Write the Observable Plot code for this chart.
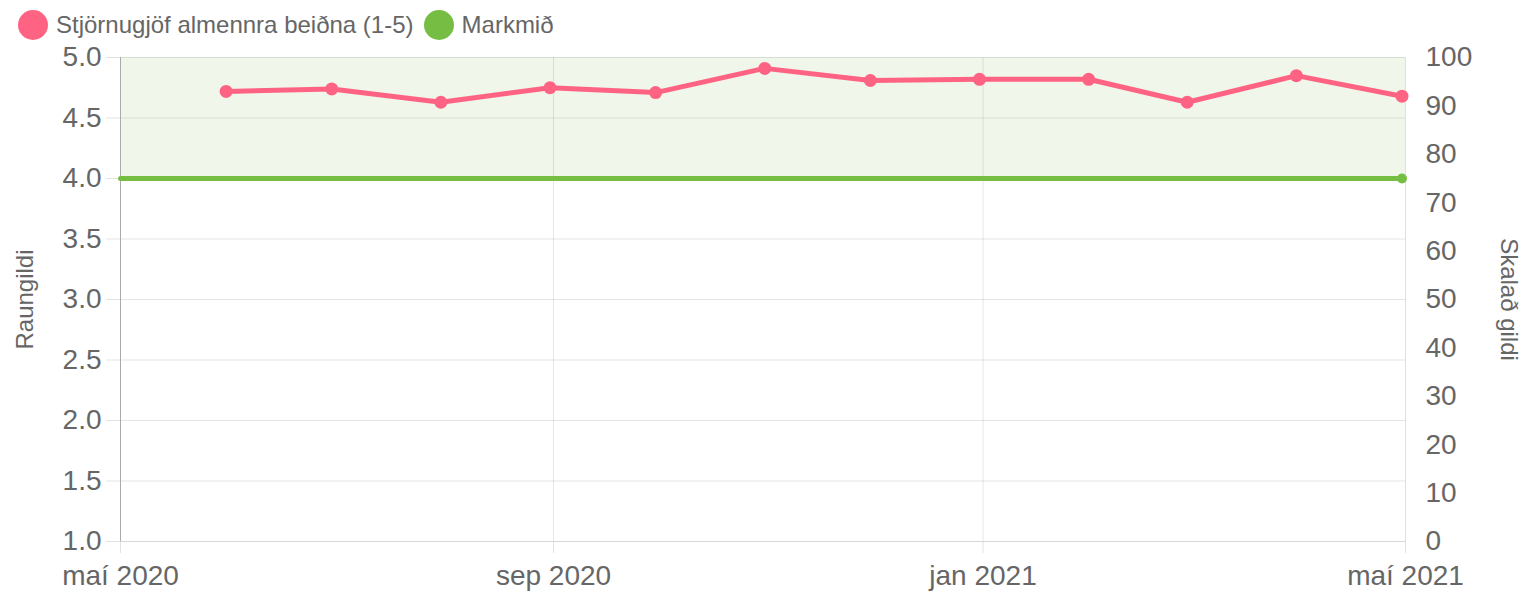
<!DOCTYPE html>
<html>
<head>
<meta charset="utf-8">
<script src="https://cdn.jsdelivr.net/npm/d3@7"></script>
<script src="https://cdn.jsdelivr.net/npm/@observablehq/plot@0.6"></script>
<style>
  html, body { margin: 0; padding: 0; background: #fff; }
  body { width: 1524px; height: 592px; overflow: hidden; font-family: "Liberation Sans", Arial, sans-serif; }
  #legend { height: 50px; display: flex; align-items: center; padding-left: 18px; box-sizing: border-box; }
  .item { display: flex; align-items: center; margin-right: 10px; color: #666; font-size: 24px; }
  .swatch { width: 30px; height: 30px; border-radius: 50%; margin-right: 8px; }
</style>
</head>
<body>
<div id="legend"></div>
<div id="chart"></div>
<script>
// ---- data ----
const seriesName = "Stjörnugjöf almennra beiðna (1-5)";
const targetName = "Markmið";
const months = ["2020-05-31","2020-06-30","2020-07-31","2020-08-31","2020-09-30","2020-10-31",
                "2020-11-30","2020-12-31","2021-01-31","2021-02-28","2021-03-31","2021-04-30"];
const values = [4.72, 4.74, 4.63, 4.75, 4.71, 4.91, 4.81, 4.82, 4.82, 4.63, 4.85, 4.68];
const targetDates = ["2020-05-01", "2021-04-30"];
const targetValues = [4, 4];
const bandLow = 4, bandHigh = 5;
const xDomain = ["2020-05-01", "2021-05-01"];
const xTickDates = ["2020-05-01", "2020-09-01", "2021-01-01", "2021-05-01"];
const xTickLabels = ["maí 2020", "sep 2020", "jan 2021", "maí 2021"];
const leftTicks = [1, 1.5, 2, 2.5, 3, 3.5, 4, 4.5, 5];
const rightTicks = [0, 10, 20, 30, 40, 50, 60, 70, 80, 90, 100];
const leftTitle = "Raungildi";
const rightTitle = "Skalað gildi";

const pink = "#ff6384", green = "#76bd43";

// ---- legend ----
const legend = document.getElementById("legend");
[[seriesName, pink], [targetName, green]].forEach(([t, c]) => {
  const it = document.createElement("div"); it.className = "item";
  const sw = document.createElement("div"); sw.className = "swatch"; sw.style.background = c;
  const tx = document.createElement("span"); tx.textContent = t;
  it.append(sw, tx); legend.append(it);
});

// ---- tables ----
const P = d3.utcParse("%Y-%m-%d");
const data = months.map((m, i) => ({date: P(m), value: values[i]}));
const target = targetDates.map((m, i) => ({date: P(m), value: targetValues[i]}));
const band = [{x1: P(xDomain[0]), x2: P(xDomain[1]), y1: bandLow, y2: bandHigh}];
const xTicks = xTickDates.map(P);
const yMin = leftTicks[0], yMax = leftTicks[leftTicks.length - 1];
const rMax = rightTicks[rightTicks.length - 1];
const rightPos = rightTicks.map(v => yMin + v / rMax * (yMax - yMin));
const xStart = P(xDomain[0]), xEnd = P(xDomain[1]);

const chart = Plot.plot({
  width: 1524,
  height: 542,
  marginTop: 7,
  marginBottom: 51,
  marginLeft: 120,
  marginRight: 119,
  style: {fontFamily: "'Liberation Sans', Arial, sans-serif", color: "#666", background: "#fff", overflow: "visible"},
  x: {type: "utc", domain: [xStart, xEnd], axis: null},
  y: {domain: [yMin, yMax], axis: null},
  marks: [
    Plot.rect(band, {x1: "x1", x2: "x2", y1: "y1", y2: "y2", fill: "#f0f7ea"}),
    Plot.gridY(leftTicks, {stroke: "#000", strokeOpacity: 0.1, strokeWidth: 1}),
    Plot.gridX(xTicks, {stroke: "#000", strokeOpacity: 0.1, strokeWidth: 1}),
    // tick extensions
    Plot.axisX(xTicks, {tickSize: 12, tickFormat: () => "", color: "#e3e3e3"}),
    Plot.axisY(leftTicks, {anchor: "left", tickSize: 14, tickFormat: () => "", color: "#e3e3e3"}),
    // tick labels
    Plot.axisX(xTicks, {tickSize: 0, tickPadding: 24, fontSize: 28, fill: "#666",
      tickFormat: (d, i) => xTickLabels[xTicks.findIndex(t => +t === +d)], label: null}),
    Plot.axisY(leftTicks, {anchor: "left", tickSize: 0, tickPadding: 19, fontSize: 28, fill: "#666",
      tickFormat: d3.format(".1f"), label: null}),
    Plot.axisY(rightPos, {anchor: "right", tickSize: 0, tickPadding: 20, fontSize: 28, fill: "#666",
      tickFormat: d => String(Math.round((d - yMin) / (yMax - yMin) * rMax)), label: null}),
    // axis borders
    Plot.ruleY([yMin], {stroke: "#d6d6d6"}),
    Plot.ruleX([xEnd], {stroke: "#e0e0e0"}),
    Plot.ruleX([xStart], {stroke: "#aaaaaa"}),
    // axis titles
    Plot.text([leftTitle], {frameAnchor: "left", dx: -95, rotate: -90, textAnchor: "middle", fontSize: 24, fill: "#666", text: d => d}),
    Plot.text([rightTitle], {frameAnchor: "right", dx: 103, rotate: 90, textAnchor: "middle", fontSize: 24, fill: "#666", text: d => d}),
    // target
    Plot.line(target, {x: "date", y: "value", stroke: green, strokeWidth: 5}),
    Plot.dot(target.slice(-1), {x: "date", y: "value", r: 5, fill: green}),
    // series
    Plot.line(data, {x: "date", y: "value", stroke: pink, strokeWidth: 5, strokeLinejoin: "round"}),
    Plot.dot(data, {x: "date", y: "value", r: 6.5, fill: pink})
  ]
});
document.getElementById("chart").append(chart);
</script>
</body>
</html>
